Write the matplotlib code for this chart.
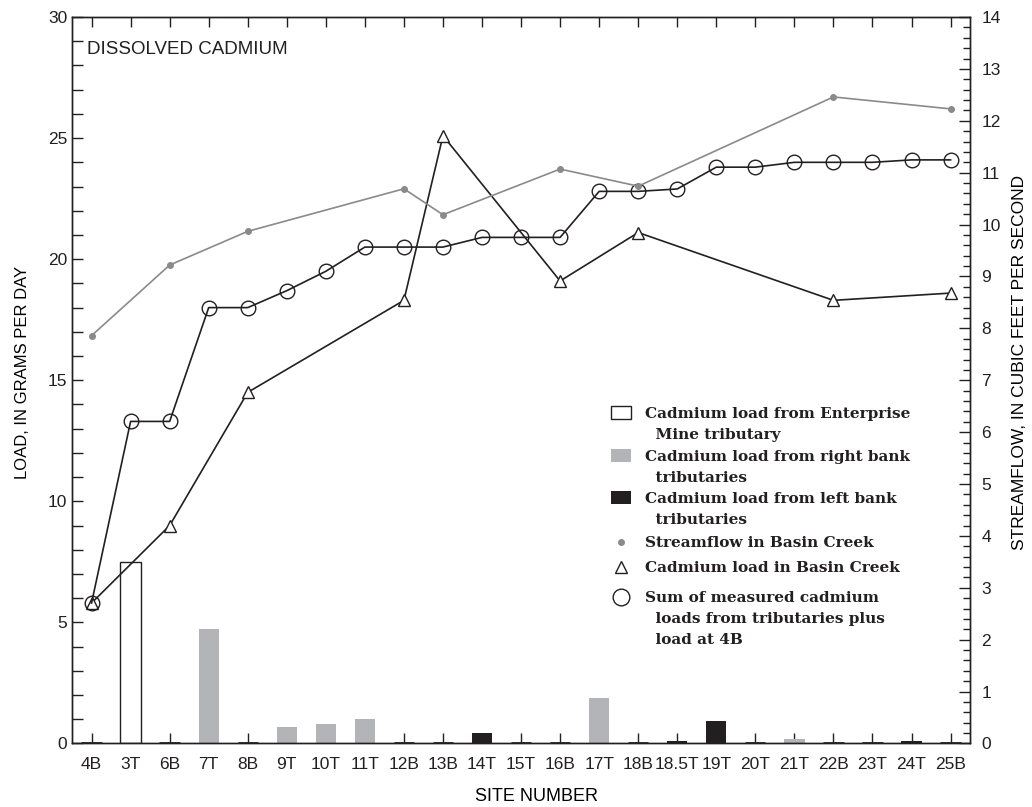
import numpy as np
import matplotlib
matplotlib.use('Agg')
import matplotlib.pyplot as plt
from matplotlib.patches import Rectangle
from matplotlib.ticker import MultipleLocator

# sites along Basin Creek, downstream order
sites = ['4B', '3T', '6B', '7T', '8B', '9T', '10T', '11T', '12B', '13B', '14T', '15T',
         '16B', '17T', '18B', '18.5T', '19T', '20T', '21T', '22B', '23T', '24T', '25B']

# cumulative tributary loads plus load at 4B, g/day
sum_load = [5.8, 13.3, 13.3, 18.0, 18.0, 18.7, 19.5, 20.5, 20.5, 20.5, 20.9, 20.9,
            20.9, 22.8, 22.8, 22.9, 23.8, 23.8, 24.0, 24.0, 24.0, 24.1, 24.1]

# main stem sites
creek_sites = ['4B', '6B', '8B', '12B', '13B', '16B', '18B', '22B', '25B']
creek_load = [5.8, 9.0, 14.5, 18.3, 25.1, 19.1, 21.1, 18.3, 18.6]
streamflow = [7.86, 9.22, 9.87, 10.69, 10.19, 11.07, 10.74, 12.46, 12.23]

# tributary loads, g/day
enterprise_sites = ['3T']
enterprise_load = [7.5]
right_sites = ['7T', '9T', '10T', '11T', '17T', '21T']
right_load = [4.73, 0.69, 0.81, 1.01, 1.88, 0.19]
left_sites = ['14T', '18.5T', '19T', '24T']
left_load = [0.42, 0.12, 0.92, 0.12]
zero_sites = ['4B', '6B', '8B', '12B', '13B', '15T', '16B', '18B', '20T', '22B', '23T', '25B']

legend_labels = [
    'Cadmium load from Enterprise\n  Mine tributary',
    'Cadmium load from right bank\n  tributaries',
    'Cadmium load from left bank\n  tributaries',
    'Streamflow in Basin Creek',
    'Cadmium load in Basin Creek',
    'Sum of measured cadmium\n  loads from tributaries plus\n  load at 4B',
]

ink = '#231f20'
light = '#b3b4b8'
flow_grey = '#8a8a8c'

plt.rcParams['font.family'] = ['Liberation Sans', 'DejaVu Sans']
plt.rcParams['text.color'] = ink

fig = plt.figure(figsize=(10.32, 8.07), dpi=100)
ax = fig.add_axes([0.0698, 0.0787, 0.8702, 0.9002])
ax2 = ax.twinx()

pos = {s: i for i, s in enumerate(sites)}


def xs(names_list):
    return [pos[s] for s in names_list]


w = 0.52
ax.bar(xs(zero_sites), [0] * len(zero_sites), width=w, color=ink,
       edgecolor=ink, linewidth=2.0, zorder=2)
ax.bar(xs(enterprise_sites), enterprise_load, width=w, facecolor='white',
       edgecolor=ink, linewidth=1.0, zorder=2)
ax.bar(xs(right_sites), right_load, width=w, color=light, linewidth=0, zorder=2)
ax.bar(xs(left_sites), left_load, width=w, color=ink, linewidth=0, zorder=2)

ax.plot(xs(creek_sites), creek_load, color=ink, lw=1.2, marker='^', ms=9,
        mfc='white', mec=ink, mew=1.0, zorder=4)
ax.plot(range(len(sites)), sum_load, color=ink, lw=1.2, marker='o', ms=10.5,
        mfc='none', mec=ink, mew=1.0, zorder=5)
ax2.plot(xs(creek_sites), streamflow, color=flow_grey, lw=1.2, marker='o', ms=4,
         mfc=flow_grey, mec=flow_grey, zorder=3)

ax.set_xlim(-0.5, len(sites) - 0.5)
ax.set_ylim(0, 30)
ax2.set_ylim(0, 14)

ax.set_xticks(range(len(sites)))
ax.set_xticklabels(sites, fontsize=12.5)
ax.yaxis.set_major_locator(MultipleLocator(5))
ax.yaxis.set_minor_locator(MultipleLocator(1))
ax2.yaxis.set_major_locator(MultipleLocator(1))
ax2.yaxis.set_minor_locator(MultipleLocator(0.2))

ax.tick_params(axis='x', direction='in', top=True, length=7, width=1, pad=10,
               colors=ink)
ax.tick_params(axis='y', which='both', direction='in', length=8, width=1,
               labelsize=12.5, colors=ink)
ax2.tick_params(axis='y', which='major', direction='in', length=8, width=1,
                labelsize=12.5, pad=8, colors=ink)
ax2.tick_params(axis='y', which='minor', direction='in', length=5, width=1,
                colors=ink)
for a in (ax, ax2):
    for sp in a.spines.values():
        sp.set_color(ink)
        sp.set_linewidth(1.0)

ax.set_xlabel('SITE NUMBER', fontsize=13)
ax.xaxis.set_label_coords(0.517, -0.061)
ax.set_ylabel('LOAD, IN GRAMS PER DAY', fontsize=12)
ax.yaxis.set_label_coords(-0.047, 0.511)
ax2.set_ylabel('STREAMFLOW, IN CUBIC FEET PER SECOND', fontsize=12.5, rotation=90)
ax2.yaxis.set_label_coords(1.047, 0.524)

ax.text(0.017, 0.955, 'DISSOLVED CADMIUM', transform=ax.transAxes, fontsize=13.5,
        va='center', ha='left')

# legend drawn by hand so each key lines up with the first row of its label
key_x, text_x = 0.611, 0.638
rows = [0.456, 0.397, 0.338, 0.2774, 0.243, 0.2017]
row_step = 0.0289
kw = dict(transform=ax2.transAxes, clip_on=False, zorder=6)
sq_w, sq_h = 0.0223, 0.0179
for y, face in zip(rows[:3], ['white', light, ink]):
    ax2.add_patch(Rectangle((key_x - sq_w / 2, y - sq_h / 2), sq_w, sq_h,
                            facecolor=face, edgecolor=ink if face == 'white' else 'none',
                            linewidth=1.0, **kw))
ax2.plot([key_x], [rows[3]], ls='none', marker='o', ms=4, color=flow_grey, **kw)
ax2.plot([key_x], [rows[4]], ls='none', marker='^', ms=9, mfc='white', mec=ink,
         mew=1.0, **kw)
ax2.plot([key_x], [rows[5]], ls='none', marker='o', ms=12, mfc='white', mec=ink,
         mew=1.0, **kw)
for y, label in zip(rows, legend_labels):
    for k, line in enumerate(label.split('\n')):
        ax2.text(text_x, y - k * row_step, line, transform=ax2.transAxes, ha='left',
                 va='center_baseline', family='DejaVu Serif', weight='bold',
                 fontsize=11, color=ink)

fig.savefig('out.png', dpi=100)
